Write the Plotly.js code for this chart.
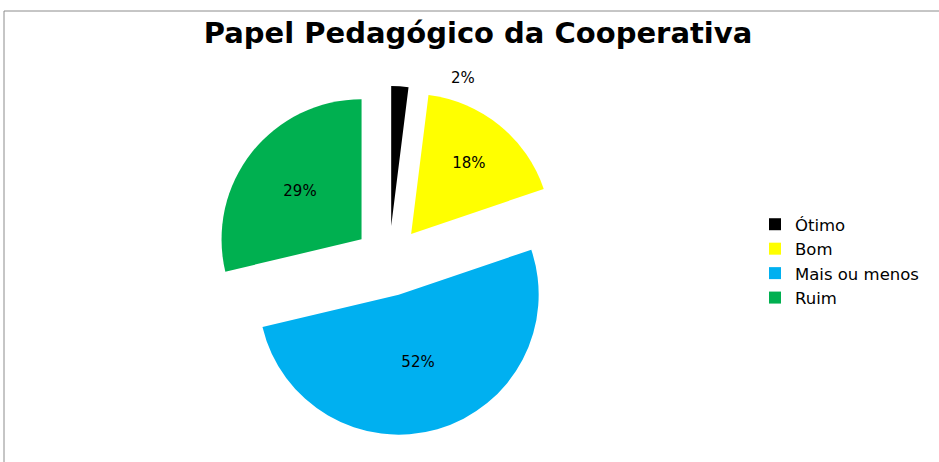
<!DOCTYPE html>
<html>
<head>
<meta charset="utf-8">
<script src="https://cdn.plot.ly/plotly-3.0.1.min.js"></script>
<style>html,body{margin:0;padding:0;background:#fff;}#chart{width:939px;height:462px;}</style>
</head>
<body>
<div id="chart"></div>
<script>
const categories = ["Ótimo", "Bom", "Mais ou menos", "Ruim"];
const values = [2, 18, 52, 29];
const colors = ["#000000", "#FFFF00", "#00B0F0", "#00B050"];
const pulls = [0.25, 0.25, 0.25, 0.25];
const sliceText = values.map(v => v + "%");
const textPositions = ["none", "inside", "inside", "inside"];

const labelFont = {family: "'DejaVu Sans', sans-serif", size: 15, color: "#000"};

const trace = {
  type: "pie",
  labels: categories,
  values: values,
  text: sliceText,
  sort: false,
  direction: "clockwise",
  rotation: 0,
  pull: pulls,
  marker: {colors: colors, line: {width: 0}},
  textinfo: "text",
  textposition: textPositions,
  textfont: labelFont,
  insidetextorientation: "horizontal",
  hoverinfo: "label+text",
  domain: {x: [214/939, 564/939], y: [1 - 436/462, 1 - 86/462]}
};

const layout = {
  width: 939,
  height: 462,
  margin: {l: 0, r: 0, t: 0, b: 0},
  paper_bgcolor: "#fff",
  title: {
    text: "<b>Papel Pedagógico da Cooperativa</b>",
    font: {family: "'DejaVu Sans', sans-serif", size: 29, color: "#000"},
    x: 478/939, xanchor: "center",
    y: 1 - 33/462, yanchor: "middle"
  },
  showlegend: true,
  legend: {
    x: 755/939, xanchor: "left",
    y: 1 - 261/462, yanchor: "middle",
    font: {family: "'DejaVu Sans', sans-serif", size: 16.5, color: "#000"},
    tracegroupgap: 0,
    itemwidth: 30
  },
  annotations: [{
    xref: "paper", yref: "paper",
    x: 463/939, y: 1 - 78/462,
    text: sliceText[0], showarrow: false,
    font: labelFont, xanchor: "center", yanchor: "middle"
  }],
  shapes: [{
    type: "rect", xref: "paper", yref: "paper",
    x0: 4/939, x1: 1.02, y0: -0.05, y1: 1 - 11/462,
    line: {color: "#8c8c8c", width: 1}
  }]
};

Plotly.newPlot("chart", [trace], layout, {displayModeBar: false, staticPlot: true});
</script>
</body>
</html>
